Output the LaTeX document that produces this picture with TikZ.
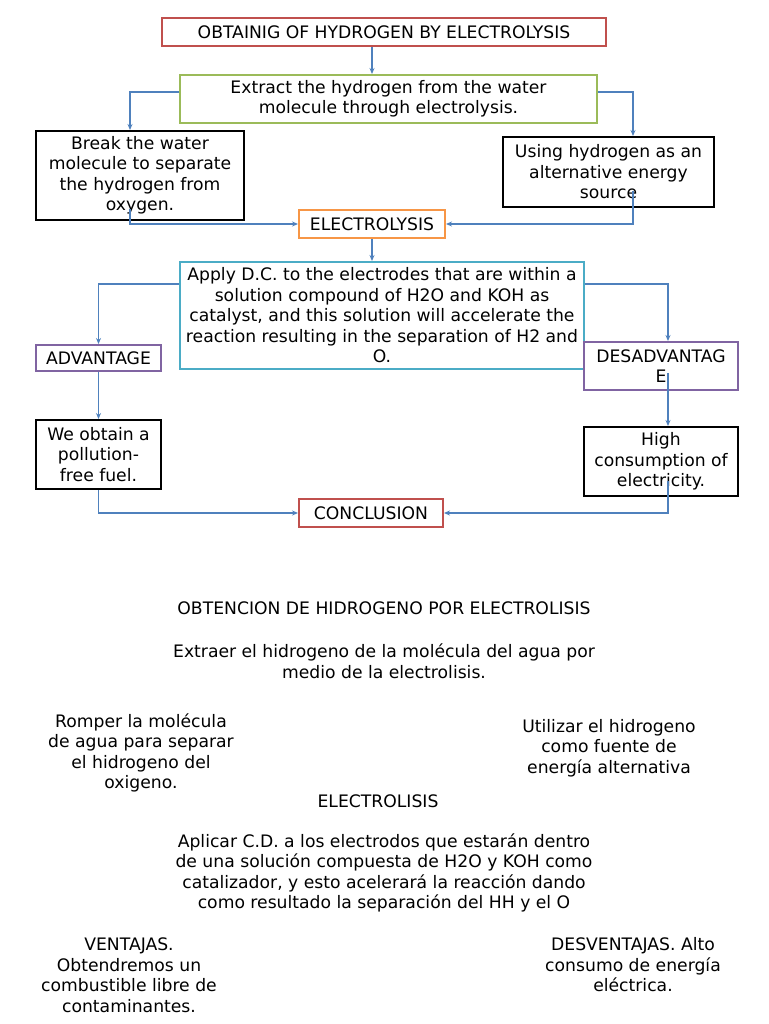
\documentclass[tikz,border=0pt]{standalone}
\usepackage{fontspec}
\setmainfont{DejaVu Sans}
\usetikzlibrary{arrows.meta}
\definecolor{cred}{RGB}{192,80,77}
\definecolor{cgreen}{RGB}{155,187,89}
\definecolor{corange}{RGB}{247,150,70}
\definecolor{ccyan}{RGB}{75,172,198}
\definecolor{cpurple}{RGB}{128,100,162}
\definecolor{cblue}{RGB}{79,129,189}
\begin{document}
\begin{tikzpicture}[x=1pt,y=-1pt,
  every node/.style={font=\fontsize{17.2}{20.5}\selectfont, align=center, inner sep=0pt, text=black},
  box/.style={draw, line width=2pt, fill=white, rectangle},
  redbox/.style={box, draw=cred},
  greenbox/.style={box, draw=cgreen},
  orangebox/.style={box, draw=corange},
  cyanbox/.style={box, draw=ccyan},
  purplebox/.style={box, draw=cpurple},
  blackbox/.style={box, draw=black},
  plain/.style={},
  arr/.style={draw=cblue, line width=1.1pt, -{Stealth[length=6pt,width=5pt]}}
]
\useasboundingbox (0,0) rectangle (768,1024);
% top diagram
\node[redbox, minimum width=444pt, minimum height=28pt] (title) at (384,32) {OBTAINIG OF HYDROGEN BY ELECTROLYSIS};
\node[greenbox, minimum width=417pt, minimum height=48pt] (green) at (388.5,99) {Extract the hydrogen from the water\\molecule through electrolysis.};
\node[blackbox, minimum width=208pt, minimum height=89pt] (box1) at (140,175.5) {Break the water\\molecule to separate\\the hydrogen from\\oxygen.};
\node[blackbox, minimum width=211pt, minimum height=70pt] (box2) at (608.5,172) {Using hydrogen as an\\alternative energy\\source};
\node[orangebox, minimum width=146pt, minimum height=28pt] (elec) at (372,224) {ELECTROLYSIS};
\node[cyanbox, minimum width=404pt, minimum height=107pt] (cyan) at (382,315.5) {Apply D.C. to the electrodes that are within a\\solution compound of H2O and KOH as\\catalyst, and this solution will accelerate the\\reaction resulting in the separation of H2 and\\O.};
\node[purplebox, minimum width=125pt, minimum height=26pt] (adv) at (98.5,358) {ADVANTAGE};
\node[purplebox, minimum width=154pt, minimum height=48pt] (desadv) at (661,366) {DESADVANTAG\\E};
\node[blackbox, minimum width=125pt, minimum height=69pt] (obtain) at (98.5,454.5) {We obtain a\\pollution-\\free fuel.};
\node[blackbox, minimum width=154pt, minimum height=69pt] (high) at (661,461.5) {High\\consumption of\\electricity.};
\node[redbox, minimum width=144pt, minimum height=28pt] (concl) at (371,513) {CONCLUSION};
% connectors
\draw[arr] (title.south -| elec.center) -- (green.north -| elec.center);
\draw[arr] ([yshift=7pt]green.west) -| ([xshift=-10pt]box1.north);
\draw[arr] ([yshift=7pt]green.east) -| ([xshift=24.5pt]box2.north);
\draw[arr] ([xshift=-10pt,yshift=12pt]box1.south) |- (elec.west);
\draw[arr] ([xshift=24.5pt,yshift=17pt]box2.south) |- (elec.east);
\draw[arr] (elec.south) -- (elec.south |- cyan.north);
\draw[arr] ([yshift=31.5pt]cyan.west) -| (adv.north);
\draw[arr] ([yshift=31.5pt]cyan.east) -| ([xshift=7pt]desadv.north);
\draw[arr] (adv.south) -- (obtain.north);
\draw[arr] ([xshift=7pt,yshift=18pt]desadv.south) -- ([xshift=7pt]high.north);
\draw[arr] (obtain.south) |- (concl.west);
\draw[arr] ([xshift=7pt,yshift=16pt]high.south) |- (concl.east);
% bottom text
\node[plain] (t1) at (384,608) {OBTENCION DE HIDROGENO POR ELECTROLISIS};
\node[plain] (t2) at (384,661) {Extraer el hidrogeno de la molécula del agua por\\medio de la electrolisis.};
\node[plain] (t3) at (141,753) {Romper la molécula\\de agua para separar\\el hidrogeno del\\oxigeno.};
\node[plain] (t4) at (609,748) {Utilizar el hidrogeno\\como fuente de\\energía alternativa};
\node[plain] (t5) at (378,801) {ELECTROLISIS};
\node[plain] (t6) at (384,873) {Aplicar C.D. a los electrodos que estarán dentro\\de una solución compuesta de H2O y KOH como\\catalizador, y esto acelerará la reacción dando\\como resultado la separación del HH y el O};
\node[plain] (t7) at (129,975) {VENTAJAS.\\Obtendremos un\\combustible libre de\\contaminantes.};
\node[plain] (t8) at (633,965) {DESVENTAJAS. Alto\\consumo de energía\\eléctrica.};
\end{tikzpicture}
\end{document}
